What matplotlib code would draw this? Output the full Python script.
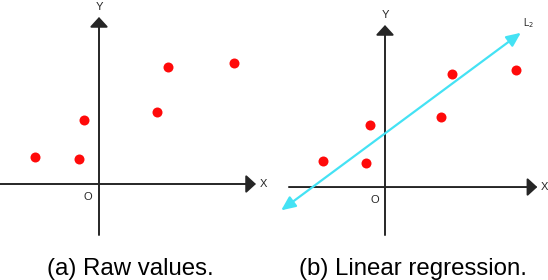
"""
Two-panel sketch: raw scatter values and the same values with a regression line.
"""
import matplotlib
matplotlib.use("Agg")
import matplotlib.pyplot as plt

# data (arbitrary units, origin at the axis crossing)
pts_x = [-6.4, -2.0, -1.5, 5.8, 6.9, 13.5]
pts_y = [2.7, 2.5, 6.4, 7.2, 11.7, 12.1]
line_x = [-10.7, 14.0]
line_y = [-2.4, 15.9]
captions = ["(a) Raw values.", "(b) Linear regression."]

AXIS_COLOR = "#262626"
DOT_COLOR = "#ff0a0a"
LINE_COLOR = "#44e2f4"

plt.rcParams["font.family"] = ["Liberation Sans", "DejaVu Sans"]


def draw_axes(ax, x_rng, y_rng):
    arrow = dict(arrowstyle="-|>,head_length=0.6,head_width=0.55", color=AXIS_COLOR,
                 lw=1.4, mutation_scale=10, shrinkA=0, shrinkB=0)
    ax.annotate("", xy=(x_rng[1], 0), xytext=(x_rng[0], 0), arrowprops=arrow)
    ax.annotate("", xy=(0, y_rng[1]), xytext=(0, y_rng[0]), arrowprops=arrow)
    ax.text(x_rng[1] + 0.4, 0, "X", fontsize=8, ha="left", va="center", color=AXIS_COLOR)
    ax.text(0, y_rng[1] + 0.5, "Y", fontsize=8, ha="center", va="bottom", color=AXIS_COLOR)
    ax.text(-1.1, -1.3, "O", fontsize=8, ha="center", va="center", color=AXIS_COLOR)


fig = plt.figure(figsize=(5.48, 2.8), dpi=100)
ax1 = fig.add_axes([0.0, 40 / 280, 0.5, 240 / 280])
ax2 = fig.add_axes([0.5, 40 / 280, 0.5, 240 / 280])

# left panel: 10 px per unit
ax1.set_xlim(-9.9, 17.5)
ax1.set_ylim(-5.6, 18.4)
draw_axes(ax1, (-9.9, 15.7), (-5.1, 16.7))
ax1.plot(pts_x, pts_y, "o", color=DOT_COLOR, ms=7.2, mec="none")

# right panel: slightly smaller scale
ax2.set_xlim(-11.44, 16.8)
ax2.set_ylim(-5.46, 19.28)
draw_axes(ax2, (-9.9, 15.7), (-4.95, 16.7))
ax2.plot(pts_x, pts_y, "o", color=DOT_COLOR, ms=7.2, mec="none")
ax2.annotate("", xy=(line_x[1], line_y[1]), xytext=(line_x[0], line_y[0]),
             arrowprops=dict(arrowstyle="<|-|>,head_length=0.85,head_width=0.38",
                             color=LINE_COLOR, lw=1.6, mutation_scale=10,
                             shrinkA=0, shrinkB=0))
ax2.text(line_x[1] + 0.2, line_y[1] + 1.0, r"L$_2$", fontsize=7, ha="left",
         va="center", color=AXIS_COLOR)

for ax in (ax1, ax2):
    ax.set_axis_off()

fig.text(130.5 / 548, 4.5 / 280, captions[0], fontsize=17.3, ha="center", va="baseline")
fig.text(413 / 548, 4.5 / 280, captions[1], fontsize=17.3, ha="center", va="baseline")

fig.savefig("out.png", dpi=100)
